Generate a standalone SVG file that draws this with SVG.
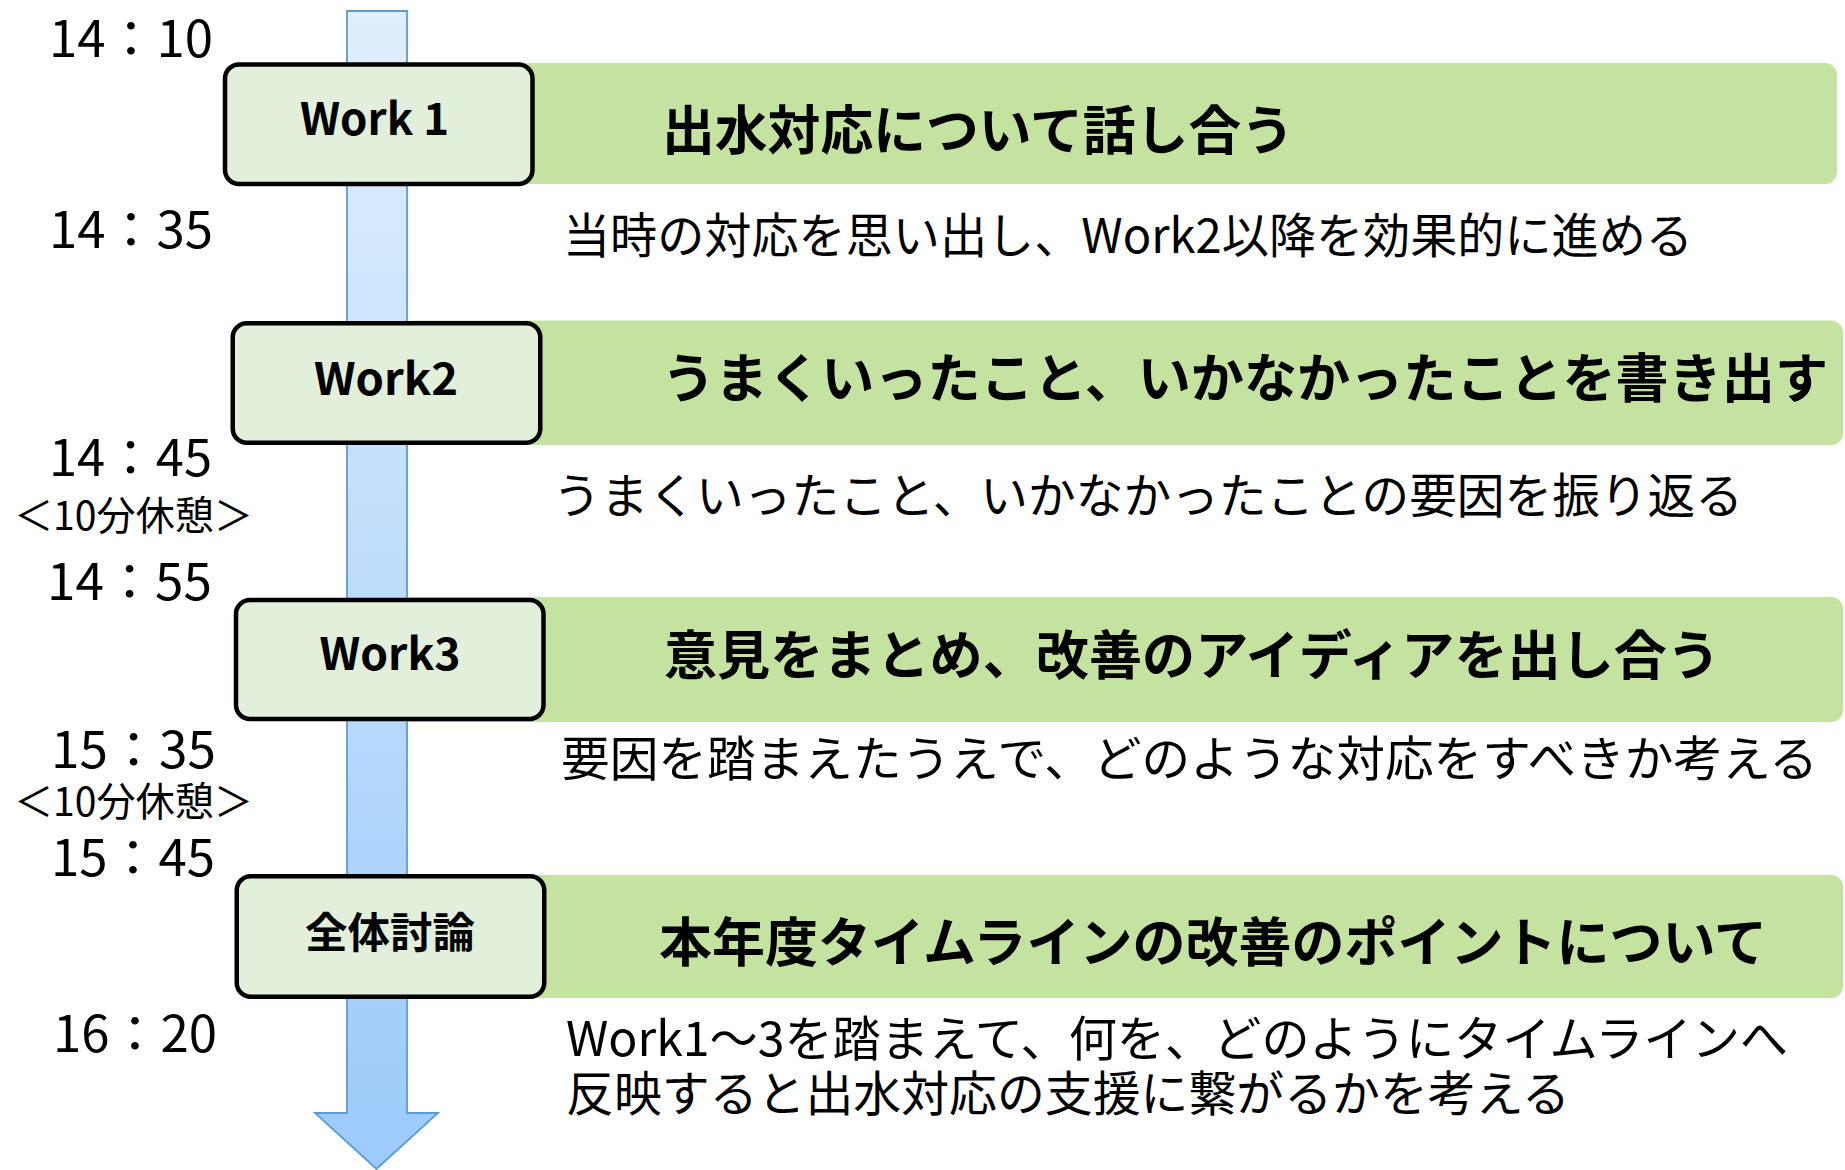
<svg xmlns="http://www.w3.org/2000/svg" width="1845" height="1170" viewBox="0 0 1845 1170">
<style>
text{font-family:"Noto Sans CJK JP","Noto Sans",sans-serif;fill:#000}
.time{font-size:50px}
.brk{font-size:40px}
.lbl{font-size:44px;font-weight:bold;text-anchor:start}
.hd{font-size:53px;font-weight:bold}
.sub{font-size:48px}
.bar{fill:#c5e3a0}
.box{fill:#e2efda;stroke:#000;stroke-width:4.5}
</style>
<defs>
<linearGradient id="ag" x1="0" y1="0" x2="0" y2="1">
<stop offset="0" stop-color="#e0effd"/>
<stop offset="1" stop-color="#9ccafa"/>
</linearGradient>
</defs>
<rect width="1845" height="1170" fill="#fff"/>
<g id="connectors">
<polygon points="347,11 407,11 407,1113 438,1113 376.5,1169 315,1113 347,1113" fill="url(#ag)" stroke="#5b9bd5" stroke-width="1.8" stroke-linejoin="miter"/>
</g>
<g id="times">
<text class="time" x="49" y="57" textLength="164" lengthAdjust="spacingAndGlyphs">14：10</text>
<text class="time" x="49" y="248" textLength="164" lengthAdjust="spacingAndGlyphs">14：35</text>
<text class="time" x="49" y="476" textLength="163" lengthAdjust="spacingAndGlyphs">14：45</text>
<text class="brk" x="14" y="530" textLength="239" lengthAdjust="spacingAndGlyphs">＜10分休憩＞</text>
<text class="time" x="47" y="600" textLength="165" lengthAdjust="spacingAndGlyphs">14：55</text>
<text class="time" x="51" y="768" textLength="165" lengthAdjust="spacingAndGlyphs">15：35</text>
<text class="brk" x="14" y="816" textLength="239" lengthAdjust="spacingAndGlyphs">＜10分休憩＞</text>
<text class="time" x="51" y="876" textLength="164" lengthAdjust="spacingAndGlyphs">15：45</text>
<text class="time" x="53" y="1052" textLength="164" lengthAdjust="spacingAndGlyphs">16：20</text>
</g>
<g id="work1">
<rect class="bar" x="400" y="63" width="1437" height="121" rx="12"/>
<rect class="box" x="225" y="64.5" width="307.5" height="119.5" rx="14"/>
<text class="lbl" x="300" y="135" textLength="149" lengthAdjust="spacingAndGlyphs">Work 1</text>
<text class="hd" x="662" y="150" textLength="632" lengthAdjust="spacingAndGlyphs">出水対応について話し合う</text>
<text class="sub" x="563" y="253" textLength="1130" lengthAdjust="spacingAndGlyphs">当時の対応を思い出し、Work2以降を効果的に進める</text>
</g>
<g id="work2">
<rect class="bar" x="400" y="320.5" width="1443" height="124.5" rx="12"/>
<rect class="box" x="232.75" y="323.25" width="307.5" height="119.5" rx="14"/>
<text class="lbl" x="314" y="395" textLength="144" lengthAdjust="spacingAndGlyphs">Work2</text>
<text class="hd" x="662" y="398" textLength="1166" lengthAdjust="spacingAndGlyphs">うまくいったこと、いかなかったことを書き出す</text>
<text class="sub" x="553" y="513" textLength="1190" lengthAdjust="spacingAndGlyphs">うまくいったこと、いかなかったことの要因を振り返る</text>
</g>
<g id="work3">
<rect class="bar" x="400" y="597" width="1443" height="125" rx="12"/>
<rect class="box" x="236" y="600" width="307.5" height="119" rx="14"/>
<text class="lbl" x="319.5" y="670" textLength="141" lengthAdjust="spacingAndGlyphs">Work3</text>
<text class="hd" x="664" y="675" textLength="1056" lengthAdjust="spacingAndGlyphs">意見をまとめ、改善のアイディアを出し合う</text>
<text class="sub" x="561" y="776" textLength="1257" lengthAdjust="spacingAndGlyphs">要因を踏まえたうえで、どのような対応をすべきか考える</text>
</g>
<g id="discussion">
<rect class="bar" x="400" y="875" width="1443" height="123" rx="12"/>
<rect class="box" x="236.75" y="876.25" width="307.5" height="120.5" rx="14"/>
<text class="lbl" x="305" y="948" style="font-size:42px" textLength="170" lengthAdjust="spacingAndGlyphs">全体討論</text>
<text class="hd" x="659" y="962" textLength="1108" lengthAdjust="spacingAndGlyphs">本年度タイムラインの改善のポイントについて</text>
<text class="sub" x="566" y="1056" textLength="1222" lengthAdjust="spacingAndGlyphs">Work1～3を踏まえて、何を、どのようにタイムラインへ</text>
<text class="sub" x="566" y="1111" textLength="1004" lengthAdjust="spacingAndGlyphs">反映すると出水対応の支援に繋がるかを考える</text>
</g>
</svg>
